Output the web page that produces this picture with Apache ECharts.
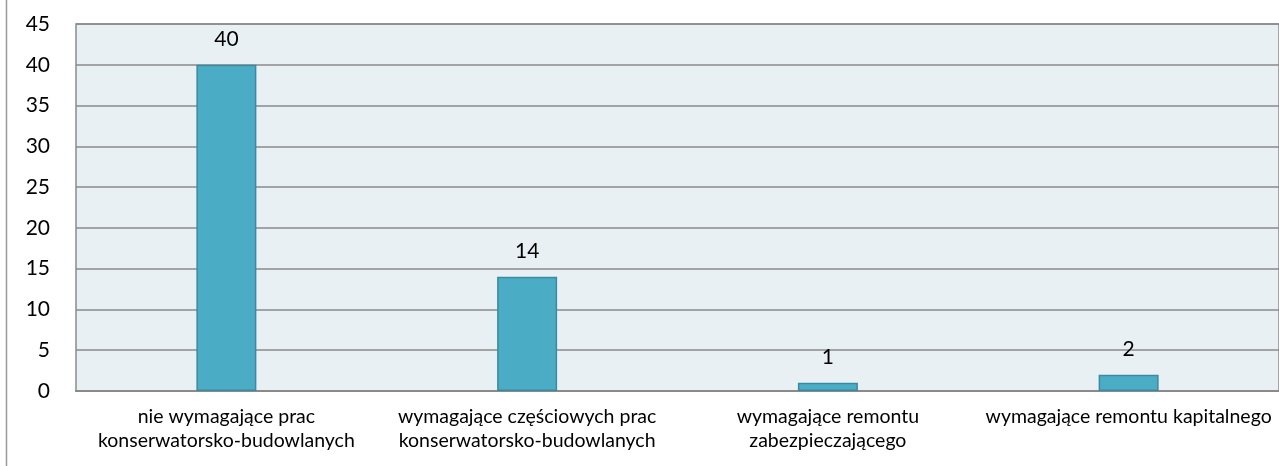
<!DOCTYPE html>
<html><head><meta charset="utf-8">
<script src="https://cdn.jsdelivr.net/npm/echarts@6/dist/echarts.min.js"></script>
<style>html,body{margin:0;padding:0;background:#fff}#c{width:1279px;height:466px}</style>
</head><body><div id="c"></div>
<script>
const categories = ['nie wymagające prac\nkonserwatorsko-budowlanych','wymagające częściowych prac\nkonserwatorsko-budowlanych','wymagające remontu\nzabezpieczającego','wymagające remontu kapitalnego'];
const values = [40, 14, 1, 2];
const yTicks = [0,5,10,15,20,25,30,35,40,45];
const chart = echarts.init(document.getElementById('c'));
chart.setOption({
  animation:false,
  graphic:[{type:'line',shape:{x1:6.5,y1:0,x2:6.5,y2:466},style:{stroke:'#9a9a9a',lineWidth:1.5}}],
  grid:{left:76,top:24,width:1204,height:367,backgroundColor:'#E9F0F4',show:true,borderColor:'#8a8a8a',borderWidth:1.5},
  xAxis:{type:'category',data:categories,
    axisLine:{lineStyle:{color:'#8a8a8a',width:2}},axisTick:{show:false},
    axisLabel:{color:'#000',fontFamily:'Lato',fontSize:19.5,lineHeight:24,margin:14,interval:0}},
  yAxis:{type:'value',min:yTicks[0],max:yTicks[yTicks.length-1],interval:5,
    axisLine:{show:false},axisTick:{show:false},
    splitLine:{lineStyle:{color:'#8a8a8a',width:1.5}},
    axisLabel:{color:'#000',fontFamily:'Lato',fontSize:21,margin:26}},
  series:[{type:'bar',data:values,barWidth:60,
    itemStyle:{color:'#4BACC6',borderColor:'#3B8AA0',borderWidth:1.5},
    label:{show:true,position:'top',distance:15,color:'#000',fontFamily:'Lato',fontSize:21}}]
});
</script></body></html>
